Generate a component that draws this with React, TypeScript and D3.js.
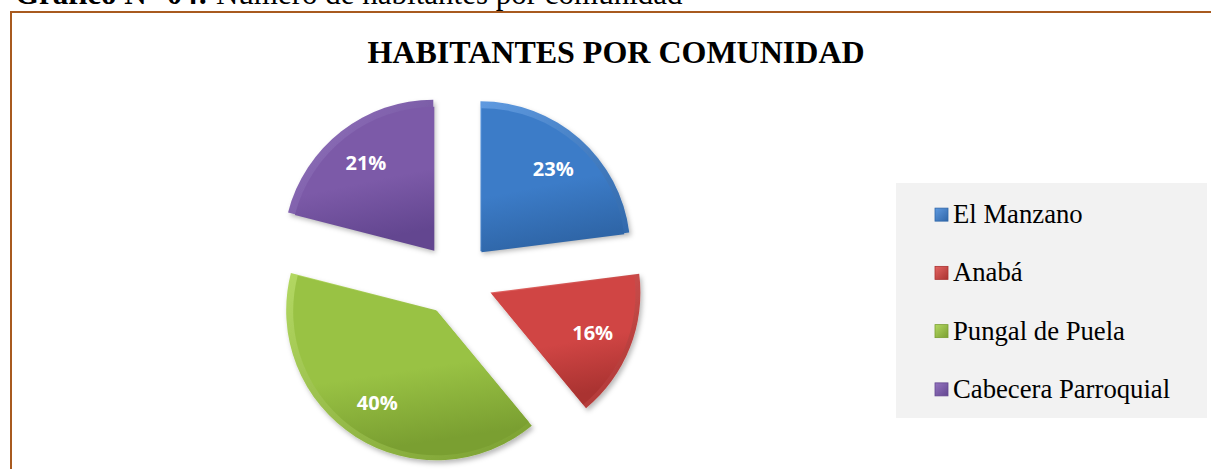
import React from "react";
import * as d3 from "d3";

const categories = ["El Manzano", "Anabá", "Pungal de Puela", "Cabecera Parroquial"];
const values = [23, 16, 40, 21];
const colors = ["#3c7cc8", "#d04544", "#99c244", "#7c5aa8"];
const lightColors = ["#5f9ae0", "#e46563", "#b3d862", "#9575c0"];
const darkColors = ["#2f66a8", "#aa3331", "#7a9f31", "#634690"];

const W = 1212;
const H = 469;
const cx = 456;
const cy = 279;
const R = 150;
const explode = 37;
const labelR = 110;

export default function App() {
  const pie = d3.pie<number>().sort(null).value((d) => d).startAngle(0).endAngle(2 * Math.PI);
  const arcs = pie(values);
  const arcGen = d3.arc<d3.PieArcDatum<number>>().innerRadius(0).outerRadius(R);
  const innerGen = d3.arc<d3.PieArcDatum<number>>().innerRadius(0).outerRadius(R - 6);
  const total = d3.sum(values);

  const legendY = d3.scaleBand<string>().domain(categories).range([194, 427]);

  return (
    <div style={{ position: "absolute", left: 0, top: 0 }}>
      <svg width={W} height={H} style={{ display: "block" }}>
        <defs>
          {colors.map((c, i) => (
            <linearGradient key={i} id={`g${i}`} x1="0" y1="0" x2="0.2" y2="1">
              <stop offset="0" stopColor={c} />
              <stop offset="0.6" stopColor={c} />
              <stop offset="1" stopColor={darkColors[i]} />
            </linearGradient>
          ))}
          {colors.map((c, i) => (
            <linearGradient key={"l" + i} id={`lg${i}`} x1="0" y1="0" x2="1" y2="1">
              <stop offset="0" stopColor={lightColors[i]} />
              <stop offset="1" stopColor={darkColors[i]} />
            </linearGradient>
          ))}
          <filter id="shadow" x="-20%" y="-20%" width="140%" height="140%">
            <feDropShadow dx="2" dy="3" stdDeviation="2.5" floodColor="#000" floodOpacity="0.28" />
          </filter>
        </defs>
        <rect x={0} y={0} width={W} height={H} fill="#fff" />
        <text x={15} y={4} fontFamily="'Liberation Serif', 'Times New Roman', serif" fontSize={31} fill="#000">
          <tspan fontWeight="bold">Gráfico N° 04:</tspan>
          <tspan> Número de habitantes por comunidad</tspan>
        </text>
        <line x1={11} y1={12} x2={1211} y2={12} stroke="#a85a1f" strokeWidth={2} />
        <line x1={11} y1={11} x2={11} y2={H} stroke="#a85a1f" strokeWidth={2} />
        <text
          x={616}
          y={63}
          textAnchor="middle"
          fontFamily="'Liberation Serif', 'Times New Roman', serif"
          fontWeight="bold"
          fontSize={32}
          fill="#000"
        >
          HABITANTES POR COMUNIDAD
        </text>
        {arcs.map((a, i) => {
          const mid = (a.startAngle + a.endAngle) / 2;
          const dx = explode * Math.sin(mid);
          const dy = -explode * Math.cos(mid);
          const lx = labelR * Math.sin(mid);
          const ly = -labelR * Math.cos(mid);
          return (
            <g key={i} transform={`translate(${cx + dx},${cy + dy})`}>
              <path d={arcGen(a) || ""} fill={`url(#lg${i})`} filter="url(#shadow)" />
              <path d={innerGen(a) || ""} fill={`url(#g${i})`} transform="translate(1,1)" />
              <text
                x={lx}
                y={ly + 7}
                textAnchor="middle"
                fontFamily="'Open Sans', 'Liberation Sans', sans-serif"
                fontWeight="bold"
                fontSize={20}
                fill="#fff"
              >
                {`${Math.round((a.value / total) * 100)}%`}
              </text>
            </g>
          );
        })}
        <rect x={896} y={183} width={311} height={235} fill="#f2f2f2" />
        {categories.map((c, i) => {
          const y = (legendY(c) || 0) + legendY.bandwidth() / 2;
          return (
            <g key={c}>
              <rect x={935} y={y - 15} width={13} height={13} fill={`url(#lg${i})`} stroke={darkColors[i]} strokeWidth={0.8} />
              <text
                x={953}
                y={y}
                fontFamily="'Liberation Serif', 'Times New Roman', serif"
                fontSize={26.7}
                fill="#000"
              >
                {c}
              </text>
            </g>
          );
        })}
      </svg>
    </div>
  );
}
